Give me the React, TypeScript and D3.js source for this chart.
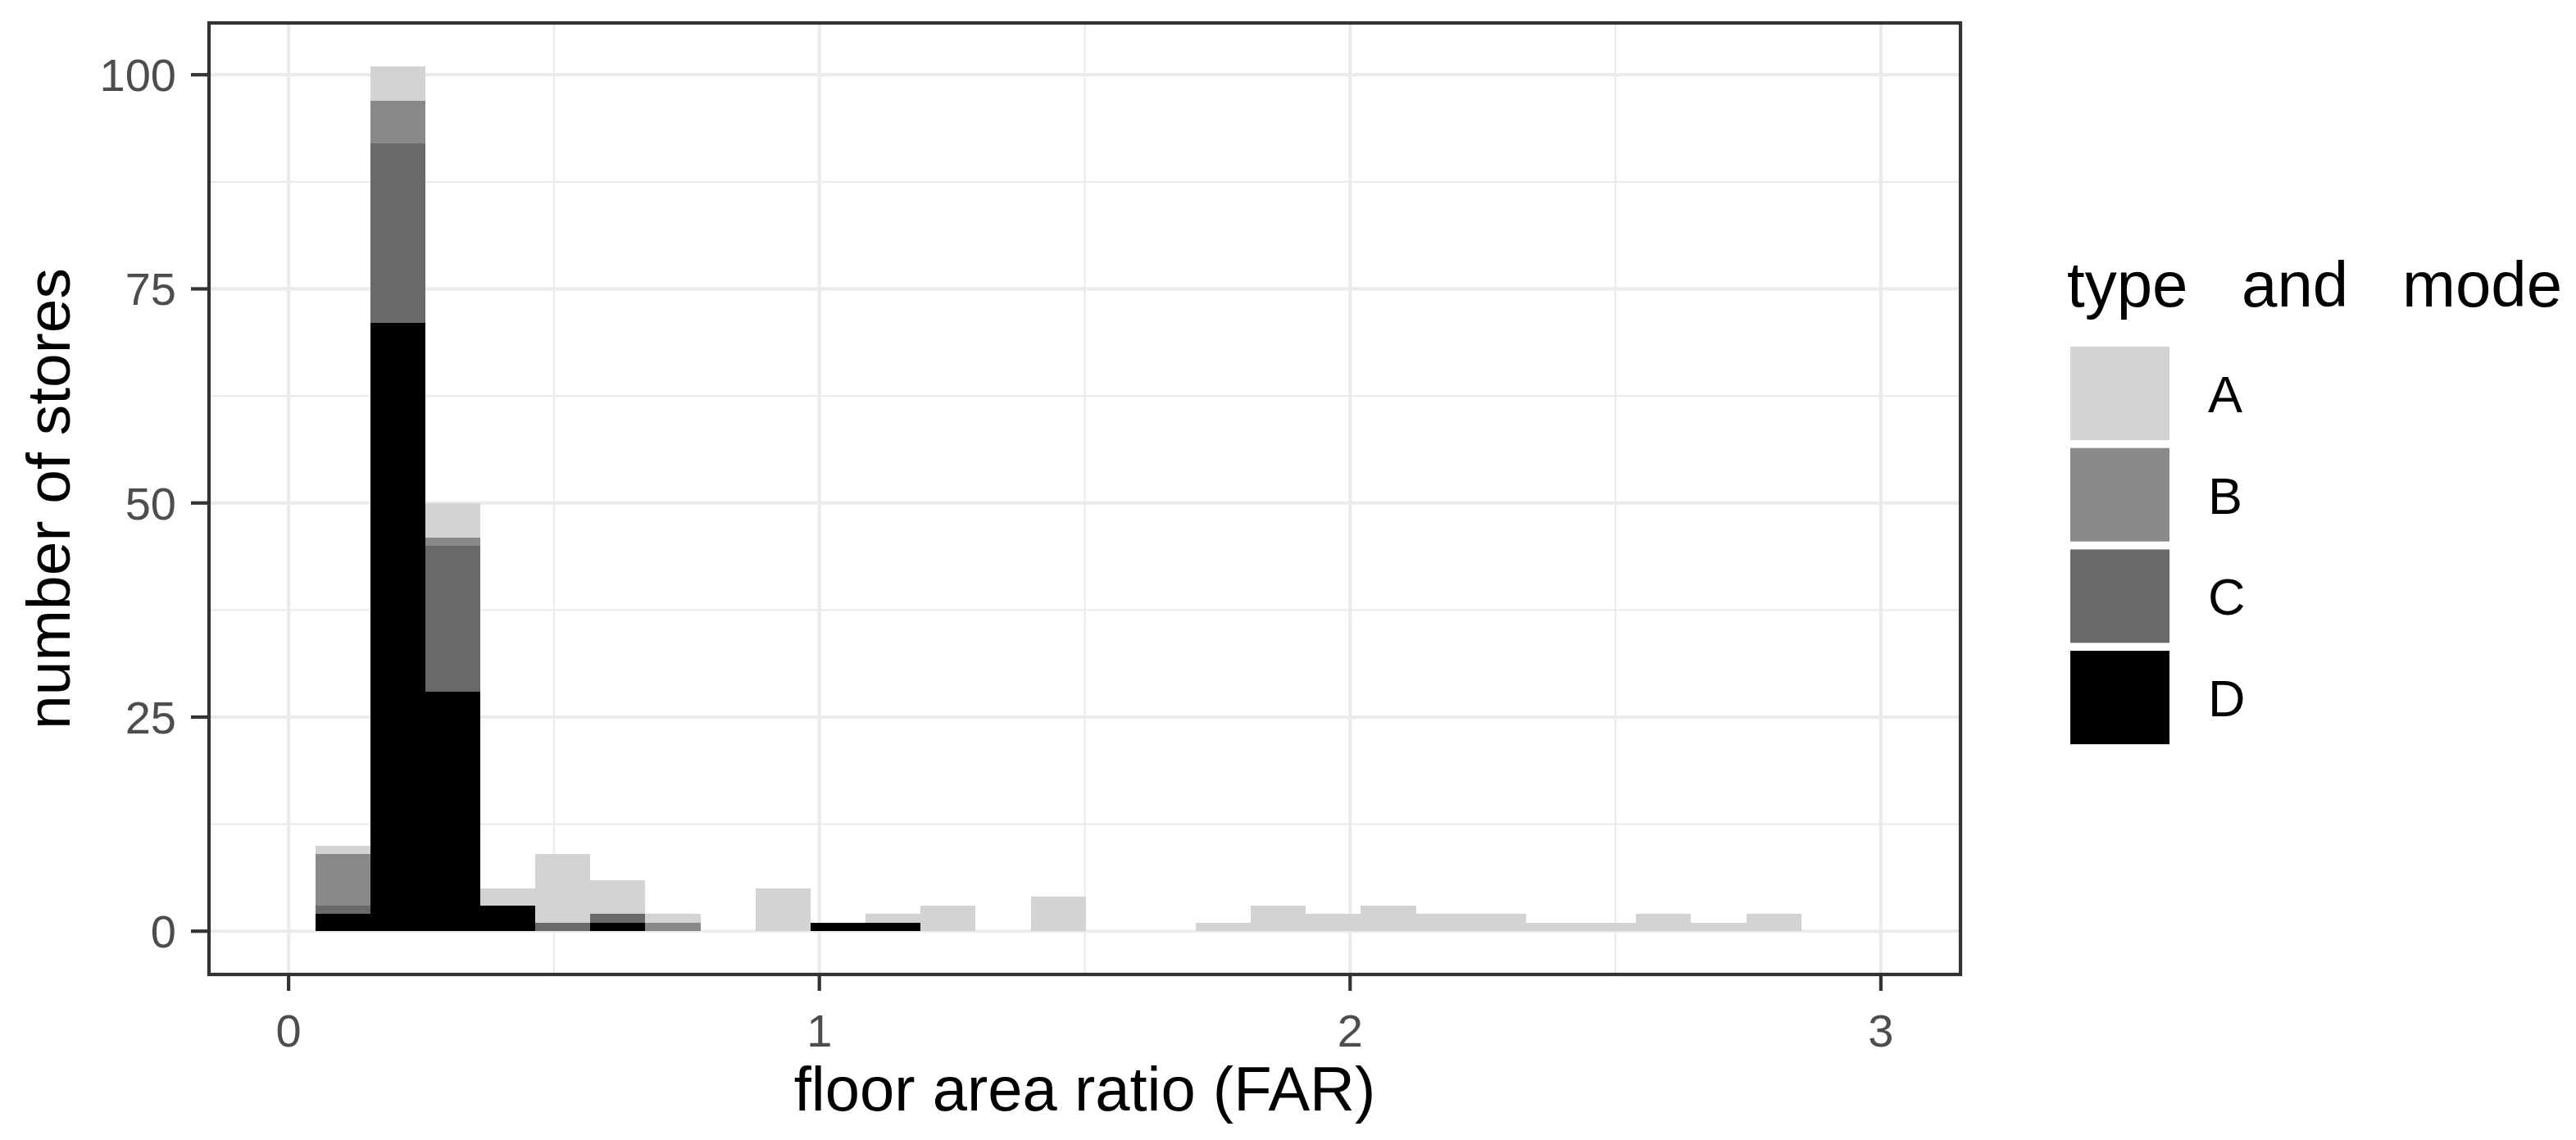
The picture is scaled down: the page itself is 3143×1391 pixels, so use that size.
import React from 'react';
import * as d3 from 'd3';

// histogram bins (FAR), counts per type/mode
const binStart = 0.05;
const binWidth = 0.1037;
const countsA = [1, 4, 4, 2, 8, 4, 1, 0, 5, 0, 1, 3, 0, 4, 0, 0, 1, 3, 2, 3, 2, 2, 1, 1, 2, 1, 2];
const countsB = [6, 5, 1, 0, 0, 0, 1, 0, 0, 0, 0, 0, 0, 0, 0, 0, 0, 0, 0, 0, 0, 0, 0, 0, 0, 0, 0];
const countsC = [1, 21, 17, 0, 1, 1, 0, 0, 0, 0, 0, 0, 0, 0, 0, 0, 0, 0, 0, 0, 0, 0, 0, 0, 0, 0, 0];
const countsD = [2, 71, 28, 3, 0, 1, 0, 0, 0, 1, 1, 0, 0, 0, 0, 0, 0, 0, 0, 0, 0, 0, 0, 0, 0, 0, 0];

const categories = ['A', 'B', 'C', 'D'];
const fills = { A: '#d3d3d3', B: '#898989', C: '#696969', D: '#000000' };

const xTicks = [0, 1, 2, 3];
const xMinor = [0.5, 1.5, 2.5];
const yTicks = [0, 25, 50, 75, 100];
const yMinor = [12.5, 37.5, 62.5, 87.5];

const W = 3143;
const H = 1391;
const panel = { left: 255, right: 2392, top: 28, bottom: 1189 };
const font = 'Liberation Sans, Arial, sans-serif';

export default function App() {
  const x = d3.scaleLinear().domain([-0.15, 3.15]).range([panel.left, panel.right]);
  const y = d3.scaleLinear().domain([-5.05, 106.05]).range([panel.bottom, panel.top]);

  const rows = countsA.map((_, i) => ({
    x0: binStart + i * binWidth,
    x1: binStart + (i + 1) * binWidth,
    A: countsA[i],
    B: countsB[i],
    C: countsC[i],
    D: countsD[i],
  }));

  // D at the bottom, A on top (ggplot stacking order)
  const stack = d3.stack().keys(['D', 'C', 'B', 'A'])(rows);

  const keySize = { w: 121, h: 114 };
  const keyTop = 423;
  const keyPitch = 123.7;

  return (
    <svg width={W} height={H} style={{ position: 'absolute', left: 0, top: 0, background: '#fff' }}>
      <rect x={0} y={0} width={W} height={H} fill="#fff" />

      {/* grid */}
      <g stroke="#ebebeb">
        {xMinor.map((d) => (
          <line key={'xm' + d} x1={x(d)} x2={x(d)} y1={panel.top} y2={panel.bottom} strokeWidth={2.1} />
        ))}
        {yMinor.map((d) => (
          <line key={'ym' + d} x1={panel.left} x2={panel.right} y1={y(d)} y2={y(d)} strokeWidth={2.1} />
        ))}
        {xTicks.map((d) => (
          <line key={'xM' + d} x1={x(d)} x2={x(d)} y1={panel.top} y2={panel.bottom} strokeWidth={4.2} />
        ))}
        {yTicks.map((d) => (
          <line key={'yM' + d} x1={panel.left} x2={panel.right} y1={y(d)} y2={y(d)} strokeWidth={4.2} />
        ))}
      </g>

      {/* bars */}
      {stack.map((layer) => (
        <g key={layer.key} fill={fills[layer.key]} shapeRendering="crispEdges">
          {layer.map((seg, i) =>
            seg[1] > seg[0] ? (
              <rect
                key={i}
                x={Math.round(x(seg.data.x0))}
                width={Math.round(x(seg.data.x1)) - Math.round(x(seg.data.x0))}
                y={Math.round(y(seg[1]))}
                height={Math.round(y(seg[0])) - Math.round(y(seg[1]))}
              />
            ) : null
          )}
        </g>
      ))}

      {/* panel border */}
      <rect
        x={panel.left}
        y={panel.top}
        width={panel.right - panel.left}
        height={panel.bottom - panel.top}
        fill="none"
        stroke="#333333"
        strokeWidth={4.2}
      />

      {/* x axis */}
      {xTicks.map((d) => (
        <g key={'xt' + d}>
          <line x1={x(d)} x2={x(d)} y1={panel.bottom} y2={panel.bottom + 20} stroke="#333333" strokeWidth={4.2} />
          <text x={x(d)} y={1277} textAnchor="middle" fontFamily={font} fontSize={56} fill="#4d4d4d">
            {d}
          </text>
        </g>
      ))}
      <text x={(panel.left + panel.right) / 2} y={1355} textAnchor="middle" fontFamily={font} fontSize={76} fill="#000">
        floor area ratio (FAR)
      </text>

      {/* y axis */}
      {yTicks.map((d) => (
        <g key={'yt' + d}>
          <line x1={panel.left - 22} x2={panel.left} y1={y(d)} y2={y(d)} stroke="#333333" strokeWidth={4.2} />
          <text x={215} y={y(d) + 20} textAnchor="end" fontFamily={font} fontSize={56} fill="#4d4d4d">
            {d}
          </text>
        </g>
      ))}
      <text
        transform={`translate(85,${(panel.top + panel.bottom) / 2}) rotate(-90)`}
        textAnchor="middle"
        fontFamily={font}
        fontSize={75}
        fill="#000"
      >
        number of stores
      </text>

      {/* legend */}
      <text x={2522} y={374} fontFamily={font} fontSize={78} fill="#000" style={{ wordSpacing: '44px' }}>
        type and mode
      </text>
      {categories.map((c, i) => (
        <g key={'lg' + c}>
          <rect x={2526} y={keyTop + i * keyPitch} width={keySize.w} height={keySize.h} fill={fills[c]} />
          <text
            x={2694}
            y={keyTop + i * keyPitch + keySize.h / 2 + 23}
            fontFamily={font}
            fontSize={63}
            fill="#000"
          >
            {c}
          </text>
        </g>
      ))}
    </svg>
  );
}
